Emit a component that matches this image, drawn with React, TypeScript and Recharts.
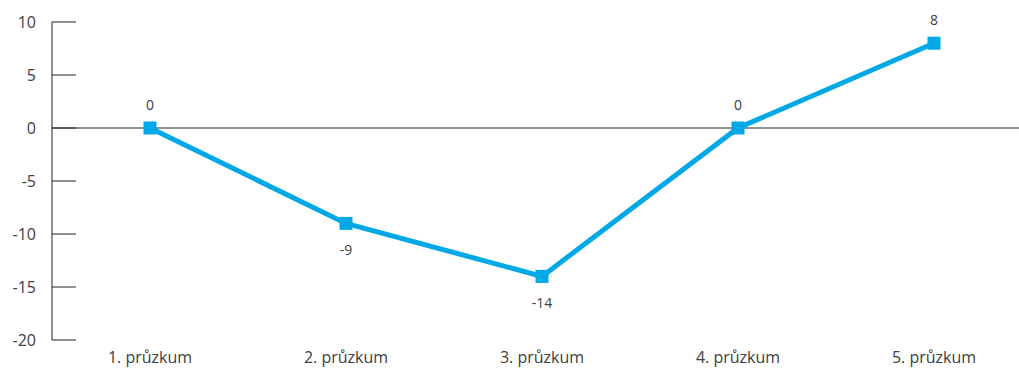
import { LineChart, Line, XAxis, YAxis, ReferenceLine, LabelList } from "recharts";

const surveys = ["1. průzkum", "2. průzkum", "3. průzkum", "4. průzkum", "5. průzkum"];
const scores = [0, -9, -14, 0, 8];
const yTicks = [10, 5, 0, -5, -10, -15, -20];

const BLUE = "#00A9E6";
const FONT = "'Open Sans', 'Noto Sans', sans-serif";

const data = surveys.map((name, i) => ({ name, score: scores[i] }));

// y ticks: label to the left, tick mark drawn inward across the plot
function YTick({ x, y, payload }: any) {
  return (
    <g>
      <line x1={x} x2={x + 24} y1={y} y2={y} stroke="#222" strokeWidth={1} />
      <text
        x={x - 16}
        y={y}
        textAnchor="end"
        dominantBaseline="central"
        fill="#404040"
        fontSize={16}
        fontFamily={FONT}
      >
        {payload.value}
      </text>
    </g>
  );
}

function XTick({ x, y, payload }: any) {
  return (
    <text
      x={x}
      y={y + 12}
      dy="0.71em"
      textAnchor="middle"
      fill="#404040"
      fontSize={16}
      fontFamily={FONT}
    >
      {payload.value}
    </text>
  );
}

// square marker
function SquareDot({ cx, cy }: any) {
  if (cx == null || cy == null) return null;
  return <rect x={cx - 6.5} y={cy - 6.5} width={13} height={13} fill={BLUE} />;
}

function ValueLabel({ x, y, value }: any) {
  const above = value >= 0;
  return (
    <text
      x={x}
      y={above ? y - 24 : y + 26}
      textAnchor="middle"
      dominantBaseline="central"
      fill="#404040"
      fontSize={14}
      fontFamily={FONT}
    >
      {value}
    </text>
  );
}

export default function App() {
  return (
    <div style={{ position: "absolute", left: 0, top: 0, background: "#fff" }}>
      <LineChart
        width={1019}
        height={368}
        data={data}
        margin={{ top: 22, right: 0, left: 0, bottom: 0 }}
      >
        <XAxis
          dataKey="name"
          height={28}
          axisLine={false}
          tickLine={false}
          tickSize={0}
          tickMargin={0}
          padding={{ left: 98, right: 85 }}
          tick={<XTick />}
          interval={0}
        />
        <YAxis
          width={52}
          domain={[-20, 10]}
          ticks={yTicks}
          axisLine={{ stroke: "#222", strokeWidth: 1 }}
          tickLine={false}
          tickSize={0}
          tickMargin={0}
          tick={<YTick />}
          interval={0}
        />
        <ReferenceLine y={0} stroke="#222" strokeWidth={1} />
        <Line
          type="linear"
          dataKey="score"
          stroke={BLUE}
          strokeWidth={5}
          dot={<SquareDot />}
          activeDot={false}
          isAnimationActive={false}
        >
          <LabelList dataKey="score" content={<ValueLabel />} />
        </Line>
      </LineChart>
    </div>
  );
}
